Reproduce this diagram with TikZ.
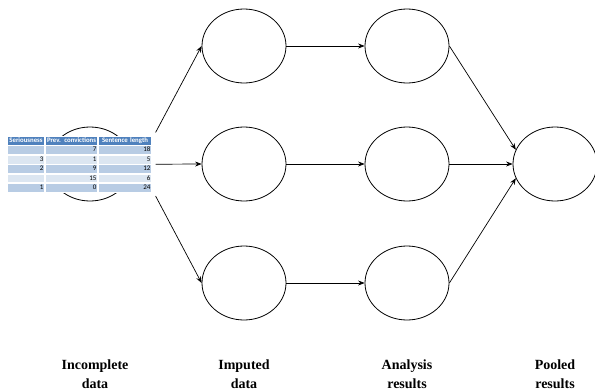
\documentclass[tikz,border=0pt]{standalone}
\usepackage{fontspec}
\setmainfont{Liberation Serif}
\newfontfamily\tablefont{Carlito}
\usetikzlibrary{arrows.meta,shapes.geometric,matrix}
\definecolor{hdrblue}{HTML}{4F81BD}
\definecolor{rowdark}{HTML}{B8CCE4}
\definecolor{rowlight}{HTML}{DCE6F1}
\begin{document}
\begin{tikzpicture}[x=1pt,y=-1pt,
  stage/.style={ellipse, draw, line width=0.8pt, minimum width=84pt, minimum height=74pt, inner sep=0pt},
  flow/.style={-{Stealth[length=6.5pt,width=5pt]}, line width=0.7pt},
  caption/.style={font=\bfseries\fontsize{14}{19}\selectfont, align=center, anchor=base},
  cellfont/.style={font=\tablefont\fontsize{7}{8}\selectfont},
  headfont/.style={font=\tablefont\bfseries\fontsize{6.8}{8}\selectfont}
]
\useasboundingbox (0,0) rectangle (595,391);

% stages
\node[stage] (s0) at (90,164) {};
\node[stage] (i1) at (244,46) {};
\node[stage] (i2) at (244,164) {};
\node[stage] (i3) at (244,283) {};
\node[stage] (a1) at (407,46) {};
\node[stage] (a2) at (407,164) {};
\node[stage] (a3) at (407,283) {};
\node[stage] (p) at (555,164) {};

% data table drawn over the first stage
\matrix (tbl) [matrix of nodes, nodes in empty cells, anchor=north west,
  column sep=0pt, row sep=0pt,
  nodes={draw=white, line width=0.6pt, cellfont, minimum height=8.8pt,
    text height=5pt, text depth=1.5pt, inner xsep=1.2pt, inner ysep=0pt, align=right},
  column 1/.style={nodes={text width=35pt}},
  column 2/.style={nodes={text width=50pt}},
  column 3/.style={nodes={text width=51pt}},
  row 1/.style={nodes={fill=hdrblue, text=white, headfont, align=center}},
  row 2/.style={nodes={fill=rowdark}},
  row 3/.style={nodes={fill=rowlight}},
  row 4/.style={nodes={fill=rowdark}},
  row 5/.style={nodes={fill=rowlight}},
  row 6/.style={nodes={fill=rowdark}}
] at (3.5,132.5) {
Seriousness & Prev. convictions & Sentence length \\
 & 7 & 18 \\
3 & 1 & 5 \\
2 & 9 & 12 \\
 & 15 & 6 \\
1 & 0 & 24 \\
};

% connectors
\draw[flow] (tbl.north east) -- (i1.west);
\draw[flow] (tbl.east) -- (i2.west);
\draw[flow] (tbl.south east) -- (i3.west);
\draw[flow] (i1.east) -- (a1.west);
\draw[flow] (i2.east) -- (a2.west);
\draw[flow] (i3.east) -- (a3.west);
\draw[flow] (a1.east) -- (p.160);
\draw[flow] (a2.east) -- (p.west);
\draw[flow] (a3.east) -- (p.200);

% captions
\node[caption] (c0) at (95,388) {Incomplete\\data};
\node[caption] (c1) at (244,388) {Imputed\\data};
\node[caption] (c2) at (407,388) {Analysis\\results};
\node[caption] (c3) at (555,388) {Pooled\\results};
\end{tikzpicture}
\end{document}
